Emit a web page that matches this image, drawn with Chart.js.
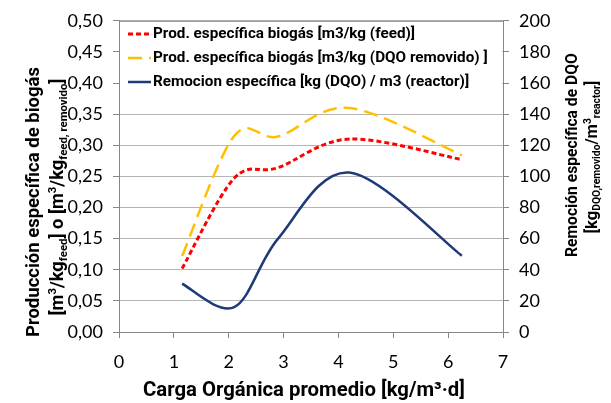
<!DOCTYPE html>
<html>
<head>
<meta charset="utf-8">
<script src="https://cdn.jsdelivr.net/npm/chart.js@4/dist/chart.umd.min.js"></script>
<style>
  html, body { margin: 0; padding: 0; background: #fff; }
</style>
</head>
<body>
<canvas id="chart" width="611" height="403"></canvas>
<script>
// x: carga orgánica promedio [kg/m3·d]
const carga = [1.15, 2.1, 2.9, 4.2, 6.25]
// left axis series
const prodFeed = [0.102, 0.247, 0.264, 0.310, 0.277]
const prodDqo = [0.122, 0.315, 0.314, 0.360, 0.284]
// right axis series
const remocion = [31, 16, 60, 102.5, 49]

const names = [
  'Prod. específica biogás [m3/kg (feed)]',
  'Prod. específica biogás [m3/kg (DQO removido) ]',
  'Remocion específica [kg (DQO) / m3 (reactor)]'
]

const FONT = 'Lato, "Open Sans", sans-serif'
const BOLD = 'Roboto, "Open Sans", sans-serif'
const AXIS = '#868686'

const toPoints = ys => ys.map((y, i) => ({x: carga[i], y}))

// width of a rich line (parts may be sub/superscript) at a given size
function richWidth(ctx, parts, size) {
  return parts.reduce((w, p) => {
    ctx.font = `bold ${p.s ? size * 0.62 : size}px ${BOLD}`
    return w + ctx.measureText(p.t).width
  }, 0)
}

// draws the rich line centered at 0,0, scaled to the wanted length
function drawRich(ctx, parts, wanted) {
  const size = 20 * wanted / richWidth(ctx, parts, 20)
  let x = -wanted / 2
  ctx.textBaseline = 'alphabetic'
  ctx.textAlign = 'left'
  parts.forEach(p => {
    ctx.font = `bold ${p.s ? size * 0.62 : size}px ${BOLD}`
    let dy = 0
    if (p.s === 'sub') dy = size * 0.22
    if (p.s === 'sup') dy = -size * 0.38
    ctx.fillText(p.t, x, size * 0.35 + dy)
    x += ctx.measureText(p.t).width
  })
}

// spreadsheet-like smoothing: control points at +-(next - prev) / 6
const smooth = {
  id: 'smooth',
  beforeDatasetDraw(chart, {meta}) {
    meta.dataset.updateControlPoints(chart.chartArea, 'x')
    const pts = meta.data
    pts.forEach((p, i) => {
      const prev = pts[i - 1] || p
      const next = pts[i + 1] || p
      const dx = (next.x - prev.x) / 6
      const dy = (next.y - prev.y) / 6
      p.cp1x = p.x - dx
      p.cp1y = p.y - dy
      p.cp2x = p.x + dx
      p.cp2y = p.y + dy
    })
  }
}

const decor = {
  id: 'decor',
  afterDatasetsDraw(chart) {
    const {ctx, chartArea: a} = chart
    ctx.save()

    // white legend panel hides the upper grid lines
    ctx.fillStyle = '#fff'
    ctx.fillRect(a.left + 1, a.top + 1, a.right - a.left - 2, 78)

    // frame top line
    ctx.strokeStyle = AXIS
    ctx.lineWidth = 1
    ctx.beginPath()
    ctx.moveTo(a.left, a.top + 0.5)
    ctx.lineTo(a.right, a.top + 0.5)
    ctx.stroke()

    // legend, font sized so the longest entry fits like the original
    const legendSize = 20 * 335 / richWidth(ctx, [{t: names[1]}], 20)
    chart.data.datasets.forEach((ds, i) => {
      const y = 34 + i * 24
      ctx.strokeStyle = ds.borderColor
      ctx.lineWidth = ds.borderWidth
      ctx.setLineDash(ds.borderDash || [])
      ctx.beginPath()
      ctx.moveTo(128, y)
      ctx.lineTo(151, y)
      ctx.stroke()
      ctx.setLineDash([])
      ctx.fillStyle = '#000'
      ctx.font = `bold ${legendSize}px ${BOLD}`
      ctx.textAlign = 'left'
      ctx.textBaseline = 'middle'
      ctx.fillText(ds.label, 153, y)
    })

    ctx.fillStyle = '#000'

    // left title
    ctx.save()
    ctx.translate(33, 202)
    ctx.rotate(-Math.PI / 2)
    drawRich(ctx, [{t: 'Producción específica de biogás'}], 270)
    ctx.restore()
    ctx.save()
    ctx.translate(57, 197)
    ctx.rotate(-Math.PI / 2)
    drawRich(ctx, [
      {t: '[m'}, {t: '3', s: 'sup'}, {t: '/kg'}, {t: 'feed', s: 'sub'},
      {t: '] o [m'}, {t: '3', s: 'sup'}, {t: '/kg'}, {t: 'feed, removido', s: 'sub'}, {t: ']'}
    ], 237)
    ctx.restore()

    // right title
    ctx.save()
    ctx.translate(572, 155)
    ctx.rotate(-Math.PI / 2)
    drawRich(ctx, [{t: 'Remoción específica de DQO'}], 204)
    ctx.restore()
    ctx.save()
    ctx.translate(591, 157)
    ctx.rotate(-Math.PI / 2)
    drawRich(ctx, [
      {t: '[kg'}, {t: 'DQO,removido', s: 'sub'}, {t: '/m'}, {t: '3', s: 'sup'},
      {t: 'reactor', s: 'sub'}, {t: ']'}
    ], 153)
    ctx.restore()

    // x title
    ctx.save()
    ctx.translate(304, 389)
    drawRich(ctx, [{t: 'Carga Orgánica promedio [kg/m³·d]'}], 322)
    ctx.restore()

    ctx.restore()
  }
}

const tickFont = {family: FONT, size: 18}

new Chart(document.getElementById('chart'), {
  type: 'line',
  data: {
    datasets: [
      {
        label: names[0],
        data: toPoints(prodFeed),
        yAxisID: 'y',
        borderColor: '#FF0000',
        borderWidth: 3,
        borderDash: [5, 3],
        tension: 0.4
      },
      {
        label: names[1],
        data: toPoints(prodDqo),
        yAxisID: 'y',
        borderColor: '#FFC000',
        borderWidth: 2.5,
        borderDash: [14, 7],
        tension: 0.4
      },
      {
        label: names[2],
        data: toPoints(remocion),
        yAxisID: 'y1',
        borderColor: '#1F3A78',
        borderWidth: 2.5,
        tension: 0.4
      }
    ]
  },
  options: {
    responsive: false,
    animation: false,
    layout: {padding: {top: 18, left: 0, right: 0, bottom: 0}},
    elements: {point: {radius: 0}},
    plugins: {legend: {display: false}, tooltip: {enabled: false}},
    scales: {
      x: {
        type: 'linear',
        min: 0,
        max: 7,
        ticks: {stepSize: 1, font: tickFont, color: '#000', padding: 13},
        grid: {drawOnChartArea: false, tickLength: 6, tickColor: AXIS},
        border: {color: AXIS},
        afterFit: s => { s.height = 71 }
      },
      y: {
        position: 'left',
        min: 0,
        max: 0.5,
        ticks: {
          stepSize: 0.05,
          font: tickFont,
          color: '#000',
          padding: 10,
          callback: v => v.toFixed(2).replace('.', ',')
        },
        grid: {
          color: '#b5b5b5',
          borderDash: [2, 2],
          tickLength: 6,
          tickColor: AXIS,
          tickBorderDash: []
        },
        border: {color: AXIS},
        afterFit: s => { s.width = 119 }
      },
      y1: {
        position: 'right',
        min: 0,
        max: 200,
        ticks: {stepSize: 20, font: tickFont, color: '#000', padding: 10},
        grid: {drawOnChartArea: false, tickLength: 6, tickColor: AXIS},
        border: {color: AXIS},
        afterFit: s => { s.width = 108 }
      }
    }
  },
  plugins: [smooth, decor]
})
</script>
</body>
</html>
